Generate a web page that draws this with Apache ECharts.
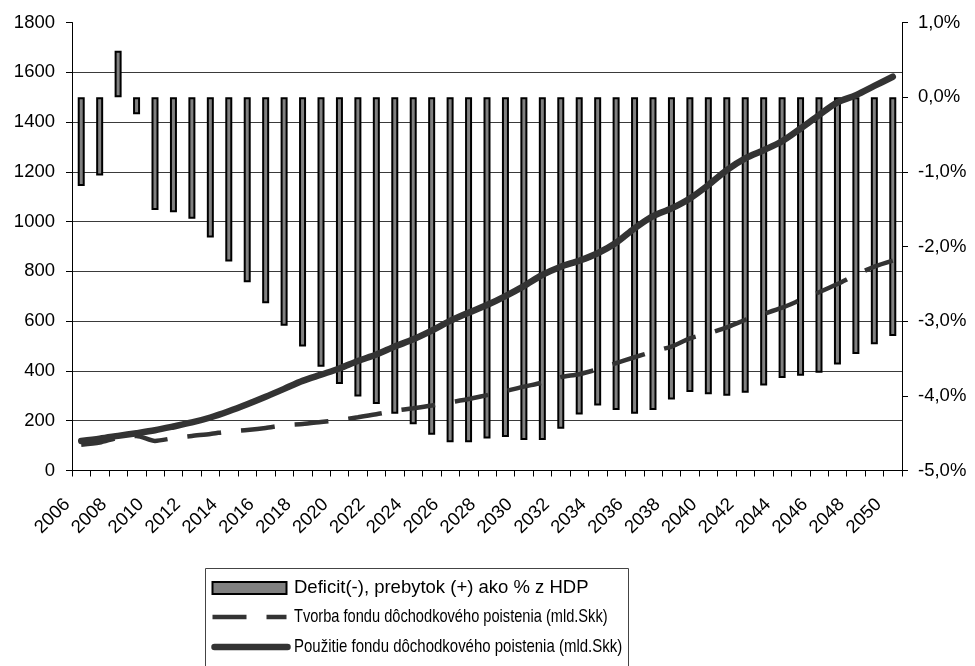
<!DOCTYPE html>
<html>
<head>
<meta charset="utf-8">
<script src="https://cdn.jsdelivr.net/npm/echarts@6/dist/echarts.min.js"></script>
<style>
  html, body { margin: 0; padding: 0; background: #fff; }
  #chart { width: 975px; height: 666px; }
</style>
</head>
<body>
<div id="chart"></div>
<script>
// Roky projekcie
const years = [];
for (let y = 2006; y <= 2050; y++) years.push(String(y));

// Deficit(-), prebytok (+) ako % z HDP
const deficitPct = [
  -1.19, -1.05, 0.62, -0.23, -1.51, -1.54, -1.63, -1.88, -2.20, -2.48,
  -2.76, -3.06, -3.34, -3.61, -3.84, -4.01, -4.11, -4.24, -4.38, -4.52,
  -4.62, -4.62, -4.57, -4.55, -4.59, -4.59, -4.44, -4.25, -4.13, -4.19,
  -4.24, -4.19, -4.05, -3.95, -3.98, -4.00, -3.96, -3.86, -3.76, -3.73,
  -3.69, -3.58, -3.44, -3.31, -3.20
];

// Tvorba fondu dôchodkového poistenia (mld. Skk)
const tvorba = [
  103, 112, 132, 139, 119, 130, 139, 147, 157, 163,
  171, 182, 187, 195, 203, 214, 226, 240, 250, 261,
  274, 287, 303, 319, 337, 353, 375, 387, 407, 431,
  455, 478, 498, 531, 551, 575, 605, 629, 654, 685,
  716, 749, 786, 819, 843
];

// Použitie fondu dôchodkového poistenia (mld. Skk)
const pouzitie = [
  119, 128, 139, 150, 162, 177, 193, 213, 238, 266,
  296, 328, 360, 385, 410, 440, 466, 498, 527, 562,
  601, 634, 665, 701, 741, 786, 819, 843, 873, 915,
  973, 1022, 1053, 1093, 1147, 1207, 1254, 1287, 1323, 1374,
  1428, 1479, 1508, 1545, 1582
];

const seriesNames = [
  'Deficit(-), prebytok (+) ako % z HDP',
  'Tvorba fondu dôchodkového poistenia (mld.Skk)',
  'Použitie fondu dôchodkového poistenia (mld.Skk)'
];

const FONT = '"Liberation Sans", Arial, sans-serif';
const FS = 18.5;
const LINE_COLOR = '#333';
const BAR_FILL = '#808080';
const DASH = [34, 20];

// Legend box drawn as graphic elements; the two long fund entries are
// horizontally condensed so that the box stays compact.
const LEG = { x: 205, y: 568, w: 423, h: 120, iconX: 212.5, iconW: 74, textX: 294, rows: [588, 617, 647] };
const legendTextScale = [1, 0.79, 0.81];

function legendGraphic() {
  const els = [
    {
      type: 'rect',
      shape: { x: LEG.x + 0.5, y: LEG.y + 0.5, width: LEG.w, height: LEG.h },
      style: { fill: '#fff', stroke: '#444', lineWidth: 1 },
      z: 10
    },
    {
      type: 'rect',
      shape: { x: LEG.iconX, y: LEG.rows[0] - 6, width: LEG.iconW, height: 12 },
      style: { fill: BAR_FILL, stroke: '#000', lineWidth: 2 },
      z: 11
    },
    {
      type: 'line',
      shape: { x1: LEG.iconX, y1: LEG.rows[1], x2: LEG.iconX + LEG.iconW, y2: LEG.rows[1] },
      style: { stroke: LINE_COLOR, lineWidth: 4.5, lineDash: DASH, lineCap: 'butt' },
      z: 11
    },
    {
      type: 'line',
      shape: { x1: LEG.iconX + 2, y1: LEG.rows[2], x2: LEG.iconX + LEG.iconW + 1, y2: LEG.rows[2] },
      style: { stroke: LINE_COLOR, lineWidth: 6.5, lineCap: 'round' },
      z: 11
    }
  ];
  seriesNames.forEach((name, i) => {
    els.push({
      type: 'text',
      x: LEG.textX,
      y: LEG.rows[i],
      scaleX: legendTextScale[i],
      style: {
        text: name,
        x: 0,
        y: 0,
        fontFamily: FONT,
        fontSize: FS,
        fill: '#000',
        align: 'left',
        verticalAlign: 'middle'
      },
      z: 11
    });
  });
  return els;
}

const chart = echarts.init(document.getElementById('chart'), null, { renderer: 'canvas' });

chart.setOption({
  animation: false,
  backgroundColor: '#ffffff',
  textStyle: { fontFamily: FONT, color: '#000' },
  grid: { left: 72, top: 22.5, width: 830, height: 448, containLabel: false },
  graphic: legendGraphic(),
  xAxis: {
    type: 'category',
    data: years,
    boundaryGap: true,
    axisLine: { lineStyle: { color: '#000', width: 1 } },
    axisTick: { show: true, interval: 0, length: 6, lineStyle: { color: '#000' } },
    axisLabel: {
      interval: 1,
      rotate: 45,
      margin: 17,
      padding: [0, 20, 0, 0],
      fontFamily: FONT,
      fontSize: FS,
      color: '#000'
    },
    splitLine: { show: false }
  },
  yAxis: [
    {
      type: 'value',
      min: 0,
      max: 1800,
      interval: 200,
      position: 'left',
      axisLine: { show: true, lineStyle: { color: '#000', width: 1 } },
      axisTick: { show: true, length: 6, lineStyle: { color: '#000' } },
      axisLabel: {
        margin: 17,
        fontFamily: FONT,
        fontSize: FS,
        color: '#000',
        formatter: v => String(v)
      },
      splitLine: { show: true, showMinLine: false, showMaxLine: false, lineStyle: { color: '#3a3a3a', width: 1 } }
    },
    {
      type: 'value',
      min: -5,
      max: 1,
      interval: 1,
      position: 'right',
      axisLine: { show: true, lineStyle: { color: '#000', width: 1 } },
      axisTick: { show: true, length: 6, lineStyle: { color: '#000' } },
      axisLabel: {
        margin: 16,
        fontFamily: FONT,
        fontSize: FS,
        color: '#000',
        formatter: v => v.toFixed(1).replace('.', ',') + '%'
      },
      splitLine: { show: false }
    }
  ],
  series: [
    {
      name: seriesNames[0],
      type: 'bar',
      yAxisIndex: 1,
      data: deficitPct,
      barWidth: 7,
      itemStyle: { color: BAR_FILL, borderColor: '#000', borderWidth: 2 },
      z: 2
    },
    {
      name: seriesNames[1],
      type: 'line',
      yAxisIndex: 0,
      data: tvorba,
      symbol: 'none',
      smooth: 0.25,
      lineStyle: { color: LINE_COLOR, width: 4.5, type: DASH, cap: 'butt' },
      itemStyle: { color: LINE_COLOR },
      z: 3
    },
    {
      name: seriesNames[2],
      type: 'line',
      yAxisIndex: 0,
      data: pouzitie,
      symbol: 'none',
      smooth: 0.3,
      lineStyle: { color: LINE_COLOR, width: 6.5, cap: 'round', join: 'round' },
      itemStyle: { color: LINE_COLOR },
      z: 4
    }
  ]
});
</script>
</body>
</html>
